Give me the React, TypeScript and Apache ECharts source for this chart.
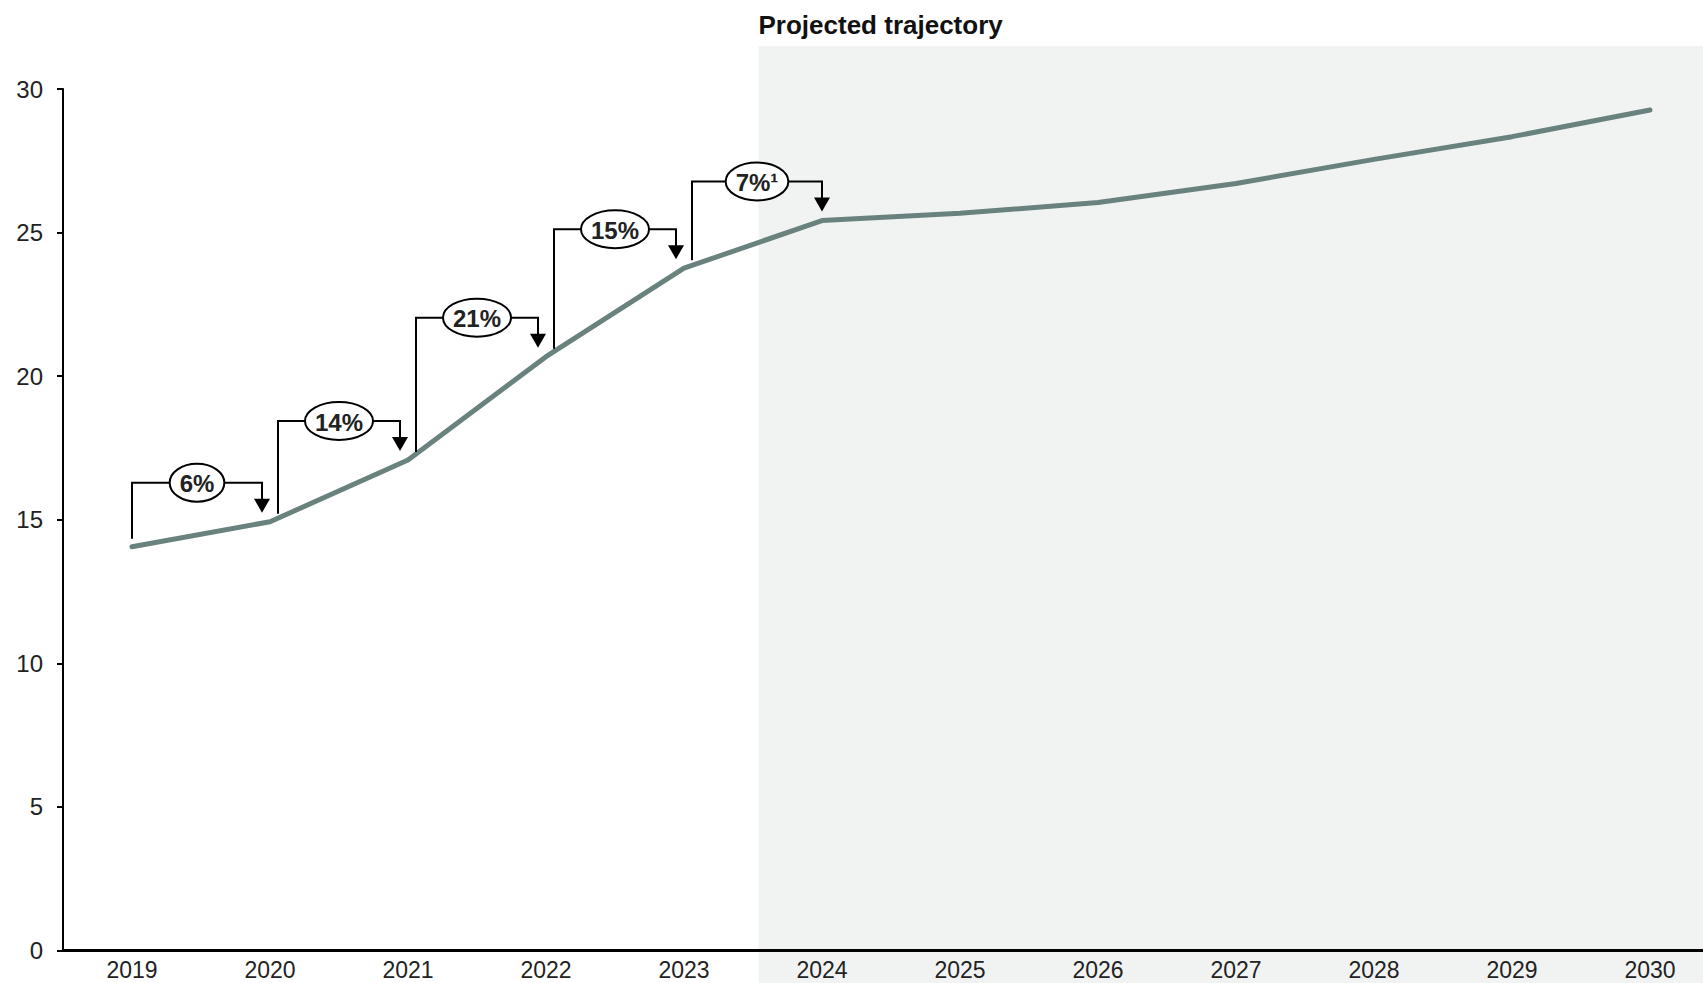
import React, { useEffect, useRef } from "react";
import * as echarts from "echarts";

// Years shown on the category axis
const years = ["2019", "2020", "2021", "2022", "2023", "2024", "2025", "2026", "2027", "2028", "2029", "2030"];
// Series values (historic 2019–2024, projected afterwards)
const values = [14.06, 14.93, 17.08, 20.68, 23.76, 25.42, 25.67, 26.05, 26.71, 27.55, 28.34, 29.27];
// Year-over-year growth callouts, one per step from years[i] to years[i + 1]
const growthLabels = ["6%", "14%", "21%", "15%", "7%¹"];
// Value axis range
const yMin = 0;
const yMax = 30;
const yStep = 5;
const shadeTitle = "Projected trajectory";
// Shaded projection band starts a little past the middle of 2023–2024
const shadeStartIndex = 4.54;

const FONT = "'Liberation Sans', Arial, Helvetica, sans-serif";
const LINE_COLOR = "#6a827e";
const SHADE_COLOR = "#f1f3f2";
const WIDTH = 1703;
const HEIGHT = 983;

export default function App() {
  const ref = useRef<HTMLDivElement>(null);

  useEffect(() => {
    if (!ref.current) return;
    const chart = echarts.init(ref.current, undefined, { renderer: "svg" });

    chart.setOption({
      animation: false,
      backgroundColor: "#ffffff",
      // plot runs past the right edge of the page, so the width is set explicitly
      grid: {
        left: 63,
        top: 89,
        width: 1656,
        height: 861.5,
        containLabel: false,
        outerBoundsMode: "none",
      },
      xAxis: {
        type: "category",
        data: years,
        boundaryGap: true,
        axisLine: { show: true, lineStyle: { color: "#000", width: 3 } },
        axisTick: { show: false },
        axisLabel: { fontSize: 23, color: "#222", fontFamily: FONT, margin: 8 },
        splitLine: { show: false },
        z: 5,
      },
      yAxis: {
        type: "value",
        min: yMin,
        max: yMax,
        interval: yStep,
        axisLine: { show: true, lineStyle: { color: "#000", width: 2 } },
        axisTick: { show: true, length: 6, lineStyle: { color: "#000", width: 2 } },
        axisLabel: { fontSize: 24, color: "#222", fontFamily: FONT, margin: 20 },
        splitLine: { show: false },
        z: 5,
      },
      series: [
        {
          type: "line",
          data: values,
          symbol: "none",
          lineStyle: { color: LINE_COLOR, width: 5, cap: "round", join: "round" },
          z: 3,
        },
      ],
    });

    // Annotations positioned through the chart's own scales
    const px = (i: number, v: number) =>
      chart.convertToPixel({ seriesIndex: 0 }, [i, v]) as number[];
    const x4 = px(4, 0)[0];
    const x5 = px(5, 0)[0];
    const shadeX = x4 + (x5 - x4) * (shadeStartIndex - 4);

    const measure = document.createElement("canvas").getContext("2d");
    const labelFont = `bold 24px ${FONT}`;
    if (measure) measure.font = labelFont;

    const graphics: any[] = [
      {
        type: "rect",
        z: -10,
        silent: true,
        shape: { x: shadeX, y: 46, width: WIDTH - shadeX, height: HEIGHT - 46 },
        style: { fill: SHADE_COLOR },
      },
      {
        type: "text",
        z: 10,
        x: shadeX,
        y: 25,
        style: {
          text: shadeTitle,
          font: `bold 26px ${FONT}`,
          fill: "#111",
          textAlign: "left",
          textVerticalAlign: "middle",
        },
      },
    ];

    growthLabels.forEach((label, i) => {
      const p0 = px(i, values[i]);
      const p1 = px(i + 1, values[i + 1]);
      const sx = p0[0] + (i === 0 ? 0 : 8);
      const ex = p1[0] - (i === growthLabels.length - 1 ? 0 : 8);
      const topY = p1[1] - 39;
      const startBottom = p0[1] - 8;
      const tipY = p1[1] - 9;
      const headH = 14;
      const headW = 8;
      const tw = measure ? measure.measureText(label).width : label.length * 14;
      const rx = tw / 2 + 10;
      const cx = (sx + ex) / 2;

      graphics.push(
        {
          type: "polyline",
          z: 10,
          silent: true,
          shape: {
            points: [
              [sx, startBottom],
              [sx, topY],
              [ex, topY],
              [ex, tipY - headH + 1],
            ],
          },
          style: { stroke: "#000", lineWidth: 2, fill: null },
        },
        {
          type: "polygon",
          z: 10,
          silent: true,
          shape: {
            points: [
              [ex - headW, tipY - headH],
              [ex + headW, tipY - headH],
              [ex, tipY],
            ],
          },
          style: { fill: "#000" },
        },
        {
          type: "ellipse",
          z: 11,
          silent: true,
          shape: { cx, cy: topY, rx, ry: 19 },
          style: { fill: "#fff", stroke: "#000", lineWidth: 2 },
        },
        {
          type: "text",
          z: 12,
          silent: true,
          x: cx,
          y: topY + 1,
          style: {
            text: label,
            font: labelFont,
            fill: "#222",
            textAlign: "center",
            textVerticalAlign: "middle",
          },
        }
      );
    });

    chart.setOption({ graphic: graphics });

    return () => chart.dispose();
  }, []);

  return (
    <div
      ref={ref}
      style={{ position: "fixed", left: 0, top: 0, width: WIDTH, height: HEIGHT }}
    />
  );
}
